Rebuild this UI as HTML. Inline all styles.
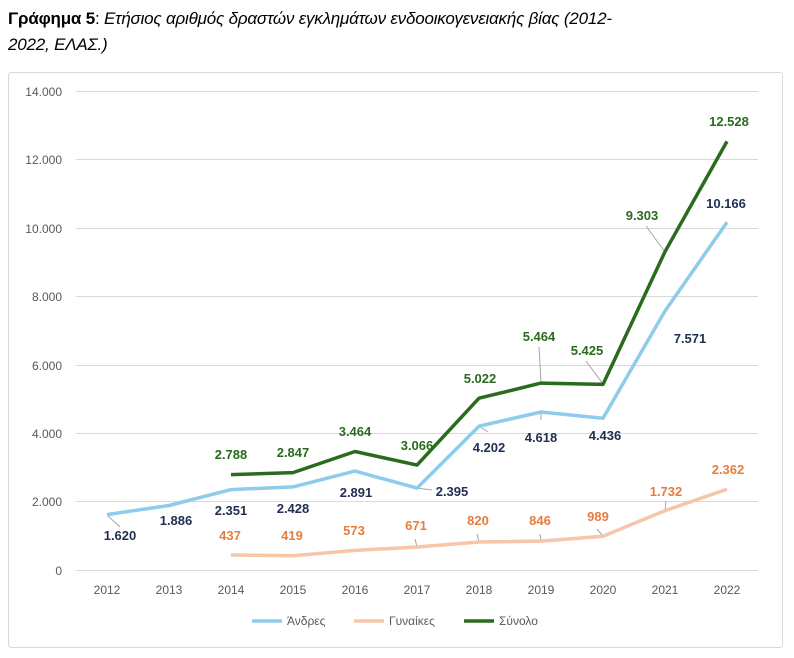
<!DOCTYPE html><html><head><meta charset="utf-8"><style>
body{margin:0;background:#fff;width:794px;height:658px;overflow:hidden;font-family:"Liberation Sans",sans-serif}
.t{position:absolute;left:8px;top:6px;font-size:17px;line-height:26px;color:#000;letter-spacing:-0.2px}
</style></head><body>
<div class="t"><b>Γράφημα 5</b>: <i>Ετήσιος αριθμός δραστών εγκλημάτων ενδοοικογενειακής βίας (2012-<br>2022, ΕΛΑΣ.)</i></div>
<svg width="794" height="658" style="position:absolute;left:0;top:0" font-family="Liberation Sans, sans-serif">
<rect x="8.5" y="72.5" width="774" height="575" fill="none" stroke="#d9d9d9" rx="3"/>
<g stroke="#d9d9d9" stroke-width="1">
<line x1="76" x2="758" y1="91.5" y2="91.5"/><line x1="76" x2="758" y1="159.5" y2="159.5"/><line x1="76" x2="758" y1="228.5" y2="228.5"/><line x1="76" x2="758" y1="296.5" y2="296.5"/><line x1="76" x2="758" y1="365.5" y2="365.5"/><line x1="76" x2="758" y1="433.5" y2="433.5"/><line x1="76" x2="758" y1="501.5" y2="501.5"/><line x1="76" x2="758" y1="570.5" y2="570.5"/>
</g>
<g font-size="12" fill="#595959" text-anchor="end">
<text x="62" y="96">14.000</text><text x="62" y="164">12.000</text><text x="62" y="233">10.000</text><text x="62" y="301">8.000</text><text x="62" y="370">6.000</text><text x="62" y="438">4.000</text><text x="62" y="506">2.000</text><text x="62" y="575">0</text>
</g>
<g font-size="12" fill="#595959" text-anchor="middle">
<text x="107" y="594">2012</text><text x="169" y="594">2013</text><text x="231" y="594">2014</text><text x="293" y="594">2015</text><text x="355" y="594">2016</text><text x="417" y="594">2017</text><text x="479" y="594">2018</text><text x="541" y="594">2019</text><text x="603" y="594">2020</text><text x="665" y="594">2021</text><text x="727" y="594">2022</text>
</g>
<g stroke="#a6a6a6" stroke-width="1">
<line x1="107" y1="515" x2="120" y2="527"/><line x1="417" y1="488" x2="432" y2="490"/><line x1="479" y1="426" x2="488" y2="432"/><line x1="541" y1="412" x2="541" y2="420"/>
<line x1="541" y1="383" x2="539" y2="347"/><line x1="603" y1="384" x2="586" y2="361"/><line x1="665" y1="252" x2="646" y2="226"/>
<line x1="417" y1="547" x2="415" y2="539"/><line x1="479" y1="542" x2="477" y2="534"/><line x1="541" y1="541" x2="540" y2="534"/><line x1="603" y1="536" x2="597" y2="529"/><line x1="665" y1="511" x2="666" y2="501"/>
</g>
<polyline fill="none" stroke="#8fcbeb" stroke-width="3.5" stroke-linejoin="round" points="107,514.6 169,505.5 231,489.6 293,486.9 355,471.1 417,488.1 479,426.2 541,412 603,418.2 665,311 727,222.2"/>
<polyline fill="none" stroke="#f6c6a9" stroke-width="3.5" stroke-linejoin="round" points="231,555 293,555.7 355,550.4 417,547 479,542 541,541.1 603,536.2 665,510.7 727,489.2"/>
<polyline fill="none" stroke="#2a6b1e" stroke-width="3.5" stroke-linejoin="round" points="231,474.6 293,472.6 355,451.5 417,465.1 479,398.2 541,383.1 603,384.4 665,251.7 727,141.4"/>
<g font-size="13" font-weight="bold" fill="#1f2f4f" text-anchor="middle">
<text x="120" y="540">1.620</text><text x="176" y="525">1.886</text><text x="231" y="515">2.351</text><text x="293" y="513">2.428</text><text x="356" y="497">2.891</text><text x="452" y="496">2.395</text><text x="489" y="452">4.202</text><text x="541" y="442">4.618</text><text x="605" y="440">4.436</text><text x="690" y="343">7.571</text><text x="726" y="208">10.166</text>
</g>
<g font-size="13" font-weight="bold" fill="#e87c3e" text-anchor="middle">
<text x="230" y="540">437</text><text x="292" y="540">419</text><text x="354" y="535">573</text><text x="416" y="530">671</text><text x="478" y="525">820</text><text x="540" y="525">846</text><text x="598" y="521">989</text><text x="666" y="496">1.732</text><text x="728" y="474">2.362</text>
</g>
<g font-size="13" font-weight="bold" fill="#2a6b1e" text-anchor="middle">
<text x="231" y="459">2.788</text><text x="293" y="457">2.847</text><text x="355" y="436">3.464</text><text x="417" y="450">3.066</text><text x="480" y="383">5.022</text><text x="539" y="341">5.464</text><text x="587" y="355">5.425</text><text x="642" y="220">9.303</text><text x="729" y="126">12.528</text>
</g>
<g font-size="12" fill="#595959">
<line x1="252" y1="621" x2="282" y2="621" stroke="#8fcbeb" stroke-width="3.5"/><text x="287" y="625">Άνδρες</text>
<line x1="354" y1="621" x2="384" y2="621" stroke="#f6c6a9" stroke-width="3.5"/><text x="389" y="625">Γυναίκες</text>
<line x1="464" y1="621" x2="494" y2="621" stroke="#2a6b1e" stroke-width="3.5"/><text x="499" y="625">Σύνολο</text>
</g>
</svg>
</body></html>
